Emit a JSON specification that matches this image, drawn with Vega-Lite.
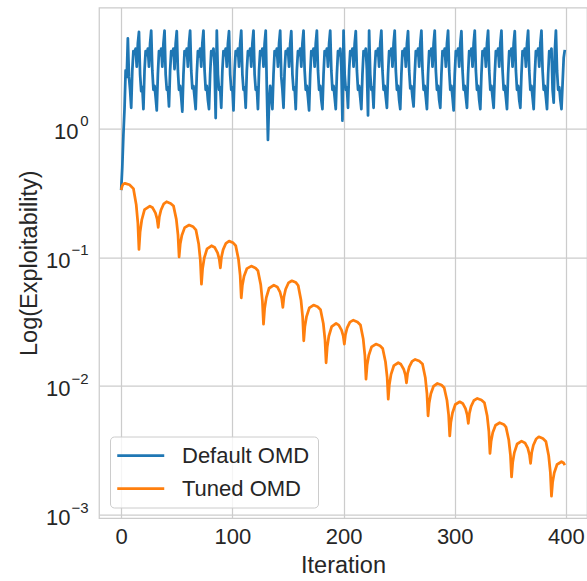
{
  "$schema": "https://vega.github.io/schema/vega-lite/v6.json",
  "autosize": {"type": "none"},
  "width": 488,
  "height": 510.5,
  "padding": {"left": 99, "top": 7.5, "right": 0, "bottom": 63},
  "background": "white",
  "config": {
    "font": "Liberation Sans",
    "view": {"stroke": "#cccccc", "strokeWidth": 1.25},
    "axis": {
      "gridColor": "#cccccc", "gridWidth": 1.25,
      "domain": false, "ticks": false,
      "labelFont": "Liberation Sans", "labelFontSize": 22, "labelColor": "#262626",
      "titleFont": "Liberation Sans", "titleFontSize": 23.5, "titleColor": "#262626", "titleFontWeight": "normal"
    }
  },
  "datasets": {
    "default_omd": [
      {"iter":0,"logexp":-0.48},{"iter":1,"logexp":-0.30},{"iter":2,"logexp":-0.05},{"iter":3,"logexp":0.15},{"iter":4,"logexp":0.45},{"iter":5,"logexp":0.40},
      {"iter":6,"logexp":0.70},{"iter":7,"logexp":0.40},{"iter":8,"logexp":0.30},{"iter":9,"logexp":0.16},{"iter":10,"logexp":0.45},{"iter":11,"logexp":0.60},{"iter":12,"logexp":0.58},{"iter":13,"logexp":0.62},{"iter":14,"logexp":0.48},{"iter":15,"logexp":0.66},
      {"iter":16,"logexp":0.75},{"iter":17,"logexp":0.42},{"iter":18,"logexp":0.29},{"iter":19,"logexp":0.32},{"iter":20,"logexp":0.15},{"iter":21,"logexp":0.45},{"iter":22,"logexp":0.60},{"iter":23,"logexp":0.57},{"iter":24,"logexp":0.62},{"iter":25,"logexp":0.48},{"iter":26,"logexp":0.66},
      {"iter":27,"logexp":0.76},{"iter":28,"logexp":0.45},{"iter":29,"logexp":0.30},{"iter":30,"logexp":0.33},{"iter":31,"logexp":0.24},{"iter":32,"logexp":0.14},{"iter":33,"logexp":0.42},{"iter":34,"logexp":0.60},{"iter":35,"logexp":0.57},{"iter":36,"logexp":0.62},{"iter":37,"logexp":0.48},{"iter":38,"logexp":0.66},
      {"iter":39,"logexp":0.76},{"iter":40,"logexp":0.42},{"iter":41,"logexp":0.30},{"iter":42,"logexp":0.32},{"iter":43,"logexp":0.17},{"iter":44,"logexp":0.45},{"iter":45,"logexp":0.60},{"iter":46,"logexp":0.57},{"iter":47,"logexp":0.62},{"iter":48,"logexp":0.46},{"iter":49,"logexp":0.66},
      {"iter":50,"logexp":0.755},{"iter":51,"logexp":0.45},{"iter":52,"logexp":0.30},{"iter":53,"logexp":0.33},{"iter":54,"logexp":0.24},{"iter":55,"logexp":0.13},{"iter":56,"logexp":0.42},{"iter":57,"logexp":0.60},{"iter":58,"logexp":0.57},{"iter":59,"logexp":0.62},{"iter":60,"logexp":0.48},{"iter":61,"logexp":0.66},
      {"iter":62,"logexp":0.76},{"iter":63,"logexp":0.45},{"iter":64,"logexp":0.31},{"iter":65,"logexp":0.33},{"iter":66,"logexp":0.24},{"iter":67,"logexp":0.15},{"iter":68,"logexp":0.42},{"iter":69,"logexp":0.60},{"iter":70,"logexp":0.56},{"iter":71,"logexp":0.62},{"iter":72,"logexp":0.48},{"iter":73,"logexp":0.66},
      {"iter":74,"logexp":0.76},{"iter":75,"logexp":0.45},{"iter":76,"logexp":0.30},{"iter":77,"logexp":0.33},{"iter":78,"logexp":0.22},{"iter":79,"logexp":0.15},{"iter":80,"logexp":0.42},{"iter":81,"logexp":0.60},{"iter":82,"logexp":0.57},{"iter":83,"logexp":0.62},{"iter":84,"logexp":0.48},{"iter":85,"logexp":0.08},
      {"iter":86,"logexp":0.76},{"iter":87,"logexp":0.42},{"iter":88,"logexp":0.30},{"iter":89,"logexp":0.32},{"iter":90,"logexp":0.16},{"iter":91,"logexp":0.45},{"iter":92,"logexp":0.60},{"iter":93,"logexp":0.57},{"iter":94,"logexp":0.62},{"iter":95,"logexp":0.48},{"iter":96,"logexp":0.66},
      {"iter":97,"logexp":0.755},{"iter":98,"logexp":0.42},{"iter":99,"logexp":0.30},{"iter":100,"logexp":0.32},{"iter":101,"logexp":0.14},{"iter":102,"logexp":0.45},{"iter":103,"logexp":0.60},{"iter":104,"logexp":0.57},{"iter":105,"logexp":0.62},{"iter":106,"logexp":0.48},{"iter":107,"logexp":0.66},
      {"iter":108,"logexp":0.76},{"iter":109,"logexp":0.42},{"iter":110,"logexp":0.30},{"iter":111,"logexp":0.32},{"iter":112,"logexp":0.16},{"iter":113,"logexp":0.45},{"iter":114,"logexp":0.60},{"iter":115,"logexp":0.57},{"iter":116,"logexp":0.62},{"iter":117,"logexp":0.48},{"iter":118,"logexp":0.66},
      {"iter":119,"logexp":0.76},{"iter":120,"logexp":0.42},{"iter":121,"logexp":0.30},{"iter":122,"logexp":0.32},{"iter":123,"logexp":0.15},{"iter":124,"logexp":0.45},{"iter":125,"logexp":0.60},{"iter":126,"logexp":0.57},{"iter":127,"logexp":0.62},{"iter":128,"logexp":0.48},{"iter":129,"logexp":0.66},
      {"iter":130,"logexp":0.76},{"iter":131,"logexp":0.30},{"iter":132,"logexp":-0.09},{"iter":133,"logexp":0.20},{"iter":134,"logexp":0.33},{"iter":135,"logexp":0.24},{"iter":136,"logexp":0.15},{"iter":137,"logexp":0.42},{"iter":138,"logexp":0.60},{"iter":139,"logexp":0.57},{"iter":140,"logexp":0.62},{"iter":141,"logexp":0.48},{"iter":142,"logexp":0.66},
      {"iter":143,"logexp":0.76},{"iter":144,"logexp":0.40},{"iter":145,"logexp":0.30},{"iter":146,"logexp":0.16},{"iter":147,"logexp":0.45},{"iter":148,"logexp":0.60},{"iter":149,"logexp":0.58},{"iter":150,"logexp":0.62},{"iter":151,"logexp":0.48},{"iter":152,"logexp":0.66},
      {"iter":153,"logexp":0.755},{"iter":154,"logexp":0.42},{"iter":155,"logexp":0.30},{"iter":156,"logexp":0.32},{"iter":157,"logexp":0.15},{"iter":158,"logexp":0.45},{"iter":159,"logexp":0.60},{"iter":160,"logexp":0.57},{"iter":161,"logexp":0.62},{"iter":162,"logexp":0.48},{"iter":163,"logexp":0.66},
      {"iter":164,"logexp":0.76},{"iter":165,"logexp":0.45},{"iter":166,"logexp":0.30},{"iter":167,"logexp":0.33},{"iter":168,"logexp":0.24},{"iter":169,"logexp":0.14},{"iter":170,"logexp":0.42},{"iter":171,"logexp":0.60},{"iter":172,"logexp":0.57},{"iter":173,"logexp":0.62},{"iter":174,"logexp":0.48},{"iter":175,"logexp":0.66},
      {"iter":176,"logexp":0.76},{"iter":177,"logexp":0.45},{"iter":178,"logexp":0.30},{"iter":179,"logexp":0.33},{"iter":180,"logexp":0.22},{"iter":181,"logexp":0.15},{"iter":182,"logexp":0.42},{"iter":183,"logexp":0.60},{"iter":184,"logexp":0.57},{"iter":185,"logexp":0.62},{"iter":186,"logexp":0.48},{"iter":187,"logexp":0.66},
      {"iter":188,"logexp":0.76},{"iter":189,"logexp":0.45},{"iter":190,"logexp":0.30},{"iter":191,"logexp":0.33},{"iter":192,"logexp":0.24},{"iter":193,"logexp":0.15},{"iter":194,"logexp":0.42},{"iter":195,"logexp":0.60},{"iter":196,"logexp":0.57},{"iter":197,"logexp":0.62},{"iter":198,"logexp":0.48},{"iter":199,"logexp":0.06},
      {"iter":200,"logexp":0.76},{"iter":201,"logexp":0.42},{"iter":202,"logexp":0.30},{"iter":203,"logexp":0.32},{"iter":204,"logexp":0.16},{"iter":205,"logexp":0.45},{"iter":206,"logexp":0.60},{"iter":207,"logexp":0.57},{"iter":208,"logexp":0.62},{"iter":209,"logexp":0.48},{"iter":210,"logexp":0.66},
      {"iter":211,"logexp":0.755},{"iter":212,"logexp":0.45},{"iter":213,"logexp":0.30},{"iter":214,"logexp":0.33},{"iter":215,"logexp":0.24},{"iter":216,"logexp":0.15},{"iter":217,"logexp":0.42},{"iter":218,"logexp":0.60},{"iter":219,"logexp":0.57},{"iter":220,"logexp":0.62},{"iter":221,"logexp":0.45},{"iter":222,"logexp":0.10},
      {"iter":223,"logexp":0.76},{"iter":224,"logexp":0.42},{"iter":225,"logexp":0.30},{"iter":226,"logexp":0.32},{"iter":227,"logexp":0.16},{"iter":228,"logexp":0.45},{"iter":229,"logexp":0.60},{"iter":230,"logexp":0.57},{"iter":231,"logexp":0.62},{"iter":232,"logexp":0.48},{"iter":233,"logexp":0.66},
      {"iter":234,"logexp":0.76},{"iter":235,"logexp":0.45},{"iter":236,"logexp":0.30},{"iter":237,"logexp":0.33},{"iter":238,"logexp":0.24},{"iter":239,"logexp":0.16},{"iter":240,"logexp":0.42},{"iter":241,"logexp":0.60},{"iter":242,"logexp":0.57},{"iter":243,"logexp":0.62},{"iter":244,"logexp":0.48},{"iter":245,"logexp":0.66},
      {"iter":246,"logexp":0.76},{"iter":247,"logexp":0.45},{"iter":248,"logexp":0.30},{"iter":249,"logexp":0.33},{"iter":250,"logexp":0.22},{"iter":251,"logexp":0.15},{"iter":252,"logexp":0.42},{"iter":253,"logexp":0.60},{"iter":254,"logexp":0.57},{"iter":255,"logexp":0.62},{"iter":256,"logexp":0.48},{"iter":257,"logexp":0.66},
      {"iter":258,"logexp":0.755},{"iter":259,"logexp":0.45},{"iter":260,"logexp":0.31},{"iter":261,"logexp":0.33},{"iter":262,"logexp":0.24},{"iter":263,"logexp":0.17},{"iter":264,"logexp":0.42},{"iter":265,"logexp":0.60},{"iter":266,"logexp":0.57},{"iter":267,"logexp":0.62},{"iter":268,"logexp":0.48},{"iter":269,"logexp":0.66},
      {"iter":270,"logexp":0.76},{"iter":271,"logexp":0.45},{"iter":272,"logexp":0.30},{"iter":273,"logexp":0.33},{"iter":274,"logexp":0.24},{"iter":275,"logexp":0.15},{"iter":276,"logexp":0.42},{"iter":277,"logexp":0.60},{"iter":278,"logexp":0.57},{"iter":279,"logexp":0.62},{"iter":280,"logexp":0.48},{"iter":281,"logexp":0.66},
      {"iter":282,"logexp":0.76},{"iter":283,"logexp":0.45},{"iter":284,"logexp":0.30},{"iter":285,"logexp":0.33},{"iter":286,"logexp":0.22},{"iter":287,"logexp":0.16},{"iter":288,"logexp":0.42},{"iter":289,"logexp":0.60},{"iter":290,"logexp":0.57},{"iter":291,"logexp":0.62},{"iter":292,"logexp":0.48},{"iter":293,"logexp":0.66},
      {"iter":294,"logexp":0.76},{"iter":295,"logexp":0.45},{"iter":296,"logexp":0.30},{"iter":297,"logexp":0.33},{"iter":298,"logexp":0.24},{"iter":299,"logexp":0.14},{"iter":300,"logexp":0.42},{"iter":301,"logexp":0.60},{"iter":302,"logexp":0.57},{"iter":303,"logexp":0.62},{"iter":304,"logexp":0.48},{"iter":305,"logexp":0.66},
      {"iter":306,"logexp":0.755},{"iter":307,"logexp":0.45},{"iter":308,"logexp":0.30},{"iter":309,"logexp":0.33},{"iter":310,"logexp":0.24},{"iter":311,"logexp":0.16},{"iter":312,"logexp":0.42},{"iter":313,"logexp":0.60},{"iter":314,"logexp":0.57},{"iter":315,"logexp":0.62},{"iter":316,"logexp":0.48},{"iter":317,"logexp":0.66},
      {"iter":318,"logexp":0.76},{"iter":319,"logexp":0.45},{"iter":320,"logexp":0.30},{"iter":321,"logexp":0.33},{"iter":322,"logexp":0.22},{"iter":323,"logexp":0.15},{"iter":324,"logexp":0.42},{"iter":325,"logexp":0.60},{"iter":326,"logexp":0.57},{"iter":327,"logexp":0.62},{"iter":328,"logexp":0.48},{"iter":329,"logexp":0.66},
      {"iter":330,"logexp":0.76},{"iter":331,"logexp":0.45},{"iter":332,"logexp":0.30},{"iter":333,"logexp":0.33},{"iter":334,"logexp":0.24},{"iter":335,"logexp":0.16},{"iter":336,"logexp":0.42},{"iter":337,"logexp":0.60},{"iter":338,"logexp":0.57},{"iter":339,"logexp":0.62},{"iter":340,"logexp":0.48},{"iter":341,"logexp":0.66},
      {"iter":342,"logexp":0.76},{"iter":343,"logexp":0.45},{"iter":344,"logexp":0.30},{"iter":345,"logexp":0.33},{"iter":346,"logexp":0.24},{"iter":347,"logexp":0.15},{"iter":348,"logexp":0.42},{"iter":349,"logexp":0.60},{"iter":350,"logexp":0.57},{"iter":351,"logexp":0.62},{"iter":352,"logexp":0.48},{"iter":353,"logexp":0.66},
      {"iter":354,"logexp":0.755},{"iter":355,"logexp":0.45},{"iter":356,"logexp":0.30},{"iter":357,"logexp":0.33},{"iter":358,"logexp":0.22},{"iter":359,"logexp":0.16},{"iter":360,"logexp":0.42},{"iter":361,"logexp":0.60},{"iter":362,"logexp":0.57},{"iter":363,"logexp":0.62},{"iter":364,"logexp":0.48},{"iter":365,"logexp":0.66},
      {"iter":366,"logexp":0.76},{"iter":367,"logexp":0.45},{"iter":368,"logexp":0.30},{"iter":369,"logexp":0.33},{"iter":370,"logexp":0.24},{"iter":371,"logexp":0.15},{"iter":372,"logexp":0.42},{"iter":373,"logexp":0.60},{"iter":374,"logexp":0.57},{"iter":375,"logexp":0.62},{"iter":376,"logexp":0.48},{"iter":377,"logexp":0.66},
      {"iter":378,"logexp":0.76},{"iter":379,"logexp":0.45},{"iter":380,"logexp":0.30},{"iter":381,"logexp":0.33},{"iter":382,"logexp":0.24},{"iter":383,"logexp":0.15},{"iter":384,"logexp":0.42},{"iter":385,"logexp":0.60},{"iter":386,"logexp":0.57},{"iter":387,"logexp":0.62},{"iter":388,"logexp":0.30},{"iter":389,"logexp":0.20},{"iter":390,"logexp":0.60},
      {"iter":391,"logexp":0.76},{"iter":392,"logexp":0.45},{"iter":393,"logexp":0.30},{"iter":394,"logexp":0.32},{"iter":395,"logexp":0.22},{"iter":396,"logexp":0.15},{"iter":397,"logexp":0.35},{"iter":398,"logexp":0.55},{"iter":399,"logexp":0.61}
    ],
    "tuned_omd": [
      {"iter":0,"logexp":-0.479},{"iter":1,"logexp":-0.445},{"iter":2,"logexp":-0.432},{"iter":3.4,"logexp":-0.427},{"iter":7.5,"logexp":-0.438},{"iter":11,"logexp":-0.468},{"iter":13.5,"logexp":-0.591},{"iter":15,"logexp":-0.735},
      {"iter":16,"logexp":-0.940},{"iter":17,"logexp":-0.806},{"iter":18.5,"logexp":-0.712},{"iter":21,"logexp":-0.631},{"iter":25.8,"logexp":-0.604},
      {"iter":28.3,"logexp":-0.617},{"iter":30.8,"logexp":-0.657},{"iter":32.3,"logexp":-0.703},{"iter":33.3,"logexp":-0.769},
      {"iter":34.3,"logexp":-0.689},{"iter":35.8,"logexp":-0.634},{"iter":38.3,"logexp":-0.586},{"iter":40.8,"logexp":-0.570},
      {"iter":44.5,"logexp":-0.583},{"iter":47.1,"logexp":-0.604},{"iter":49.6,"logexp":-0.707},{"iter":51.1,"logexp":-0.827},{"iter":52.1,"logexp":-0.998},
      {"iter":53.1,"logexp":-0.899},{"iter":54.6,"logexp":-0.830},{"iter":57.1,"logexp":-0.771},{"iter":61.1,"logexp":-0.751},
      {"iter":64.8,"logexp":-0.765},{"iter":67.2,"logexp":-0.788},{"iter":69.7,"logexp":-0.898},{"iter":71.2,"logexp":-1.026},{"iter":72.2,"logexp":-1.210},
      {"iter":73.2,"logexp":-1.091},{"iter":74.7,"logexp":-1.007},{"iter":77.2,"logexp":-0.936},{"iter":81.2,"logexp":-0.912},
      {"iter":84.2,"logexp":-0.926},{"iter":86.7,"logexp":-0.967},{"iter":88.2,"logexp":-1.015},{"iter":89.2,"logexp":-1.083},
      {"iter":90.2,"logexp":-1.000},{"iter":91.7,"logexp":-0.942},{"iter":94.2,"logexp":-0.893},{"iter":97,"logexp":-0.876},
      {"iter":100.7,"logexp":-0.889},{"iter":103,"logexp":-0.911},{"iter":105.5,"logexp":-1.017},{"iter":107,"logexp":-1.140},{"iter":108,"logexp":-1.316},
      {"iter":109,"logexp":-1.218},{"iter":110.5,"logexp":-1.149},{"iter":113,"logexp":-1.090},{"iter":117,"logexp":-1.070},
      {"iter":120.7,"logexp":-1.084},{"iter":123,"logexp":-1.106},{"iter":125.5,"logexp":-1.214},{"iter":127,"logexp":-1.341},{"iter":128,"logexp":-1.521},
      {"iter":129,"logexp":-1.400},{"iter":130.5,"logexp":-1.315},{"iter":133,"logexp":-1.242},{"iter":137.3,"logexp":-1.218},
      {"iter":140.4,"logexp":-1.232},{"iter":142.9,"logexp":-1.273},{"iter":144.4,"logexp":-1.322},{"iter":145.4,"logexp":-1.391},
      {"iter":146.4,"logexp":-1.308},{"iter":147.9,"logexp":-1.250},{"iter":150.4,"logexp":-1.201},{"iter":153.5,"logexp":-1.184},
      {"iter":157.2,"logexp":-1.198},{"iter":159.2,"logexp":-1.221},{"iter":161.7,"logexp":-1.333},{"iter":163.2,"logexp":-1.464},{"iter":164.2,"logexp":-1.650},
      {"iter":165.2,"logexp":-1.539},{"iter":166.7,"logexp":-1.462},{"iter":169.2,"logexp":-1.395},{"iter":173,"logexp":-1.373},
      {"iter":176.7,"logexp":-1.386},{"iter":179.3,"logexp":-1.409},{"iter":181.8,"logexp":-1.516},{"iter":183.3,"logexp":-1.642},{"iter":184.3,"logexp":-1.821},
      {"iter":185.3,"logexp":-1.699},{"iter":186.8,"logexp":-1.613},{"iter":189.3,"logexp":-1.540},{"iter":193.3,"logexp":-1.515},
      {"iter":195.7,"logexp":-1.528},{"iter":198.2,"logexp":-1.567},{"iter":199.7,"logexp":-1.612},{"iter":200.7,"logexp":-1.676},
      {"iter":201.7,"logexp":-1.602},{"iter":203.2,"logexp":-1.550},{"iter":205.7,"logexp":-1.505},{"iter":208.8,"logexp":-1.490},
      {"iter":212.5,"logexp":-1.504},{"iter":215.2,"logexp":-1.527},{"iter":217.7,"logexp":-1.637},{"iter":219.2,"logexp":-1.765},{"iter":220.2,"logexp":-1.948},
      {"iter":221.2,"logexp":-1.839},{"iter":222.7,"logexp":-1.763},{"iter":225.2,"logexp":-1.698},{"iter":229.1,"logexp":-1.676},
      {"iter":232.8,"logexp":-1.689},{"iter":235.2,"logexp":-1.710},{"iter":237.7,"logexp":-1.813},{"iter":239.2,"logexp":-1.932},{"iter":240.2,"logexp":-2.103},
      {"iter":241.2,"logexp":-1.990},{"iter":242.7,"logexp":-1.911},{"iter":245.2,"logexp":-1.844},{"iter":249.2,"logexp":-1.821},
      {"iter":251.6,"logexp":-1.833},{"iter":254.1,"logexp":-1.871},{"iter":255.6,"logexp":-1.915},{"iter":256.6,"logexp":-1.977},
      {"iter":257.6,"logexp":-1.904},{"iter":259.1,"logexp":-1.853},{"iter":261.6,"logexp":-1.810},{"iter":264.4,"logexp":-1.795},
      {"iter":268.1,"logexp":-1.808},{"iter":271,"logexp":-1.830},{"iter":273.5,"logexp":-1.935},{"iter":275,"logexp":-2.058},{"iter":276,"logexp":-2.233},
      {"iter":277,"logexp":-2.133},{"iter":278.5,"logexp":-2.062},{"iter":281,"logexp":-2.002},{"iter":284.4,"logexp":-1.982},
      {"iter":288.1,"logexp":-1.994},{"iter":290.5,"logexp":-2.015},{"iter":293,"logexp":-2.112},{"iter":294.5,"logexp":-2.226},{"iter":295.5,"logexp":-2.389},
      {"iter":296.5,"logexp":-2.283},{"iter":298,"logexp":-2.209},{"iter":300.5,"logexp":-2.145},{"iter":304.5,"logexp":-2.124},
      {"iter":307.2,"logexp":-2.137},{"iter":309.7,"logexp":-2.178},{"iter":311.2,"logexp":-2.225},{"iter":312.2,"logexp":-2.292},
      {"iter":313.2,"logexp":-2.214},{"iter":314.7,"logexp":-2.160},{"iter":317.2,"logexp":-2.114},{"iter":320.3,"logexp":-2.098},
      {"iter":324,"logexp":-2.111},{"iter":326.7,"logexp":-2.132},{"iter":329.2,"logexp":-2.235},{"iter":330.7,"logexp":-2.354},{"iter":331.7,"logexp":-2.525},
      {"iter":332.7,"logexp":-2.430},{"iter":334.2,"logexp":-2.363},{"iter":336.7,"logexp":-2.306},{"iter":340.4,"logexp":-2.287},
      {"iter":344.1,"logexp":-2.300},{"iter":346.1,"logexp":-2.321},{"iter":348.6,"logexp":-2.421},{"iter":350.1,"logexp":-2.539},{"iter":351.1,"logexp":-2.707},
      {"iter":352.1,"logexp":-2.596},{"iter":353.6,"logexp":-2.519},{"iter":356.1,"logexp":-2.452},{"iter":360.1,"logexp":-2.430},
      {"iter":363.2,"logexp":-2.444},{"iter":365.7,"logexp":-2.485},{"iter":367.2,"logexp":-2.534},{"iter":368.2,"logexp":-2.603},
      {"iter":369.2,"logexp":-2.520},{"iter":370.7,"logexp":-2.462},{"iter":373.2,"logexp":-2.413},{"iter":375.6,"logexp":-2.396},
      {"iter":379.3,"logexp":-2.410},{"iter":382,"logexp":-2.433},{"iter":384.5,"logexp":-2.544},{"iter":386,"logexp":-2.673},{"iter":387,"logexp":-2.857},
      {"iter":388,"logexp":-2.750},{"iter":389.5,"logexp":-2.675},{"iter":392,"logexp":-2.611},{"iter":396,"logexp":-2.590},{"iter":398,"logexp":-2.600},{"iter":399,"logexp":-2.616}
    ]
  },
  "encoding": {
    "x": {
      "field": "iter", "type": "quantitative",
      "scale": {"domain": [-19.95, 418.95], "nice": false, "zero": false},
      "axis": {"title": "Iteration", "grid": true, "values": [0, 100, 200, 300, 400], "labelPadding": 8, "titlePadding": 6}
    },
    "color": {
      "type": "nominal",
      "scale": {"domain": ["Default OMD", "Tuned OMD"], "range": ["#1f77b4", "#ff7f0e"]},
      "legend": {
        "title": null, "orient": "none", "legendX": 11, "legendY": 429,
        "symbolType": "M-2,0H6", "symbolSize": 138, "symbolStrokeWidth": 2.75,
        "labelFontSize": 22, "labelFont": "Liberation Sans", "labelColor": "#262626",
        "fillColor": "rgba(255,255,255,0.8)", "strokeColor": "#cccccc", "cornerRadius": 4,
        "padding": 8, "rowPadding": 11, "labelOffset": 42
      }
    }
  },
  "layer": [
    {
      "data": {"name": "default_omd"},
      "mark": {"type": "line", "strokeWidth": 2.75, "clip": true, "strokeJoin": "round"},
      "encoding": {
        "color": {"datum": "Default OMD"},
        "y": {
          "field": "logexp", "type": "quantitative",
          "scale": {"domain": [-3.027, 0.939], "nice": false, "zero": false},
          "axis": {
            "orient": "left", "grid": true, "title": "Log(Exploitability)", "values": [-3, -2, -1, 0],
            "labelPadding": {"condition": {"test": "datum.value == 0", "value": 21}, "value": 29},
            "labelOffset": 3, "titlePadding": 4.5,
            "labelExpr": "'10'"
          }
        }
      }
    },
    {
      "data": {"name": "tuned_omd"},
      "mark": {"type": "line", "strokeWidth": 2.75, "clip": true, "strokeJoin": "round"},
      "encoding": {
        "color": {"datum": "Tuned OMD"},
        "y": {
          "field": "logexp", "type": "quantitative",
          "scale": {"domain": [-3.027, 0.939], "nice": false, "zero": false},
          "axis": {
            "orient": "left", "grid": false, "title": null, "values": [-3, -2, -1, 0],
            "labelPadding": 11, "labelOffset": -7.5, "labelFontSize": 15,
            "labelExpr": "datum.value == 0 ? '0' : '−' + format(-datum.value, 'd')"
          }
        }
      }
    }
  ],
  "resolve": {"axis": {"y": "independent"}}
}
